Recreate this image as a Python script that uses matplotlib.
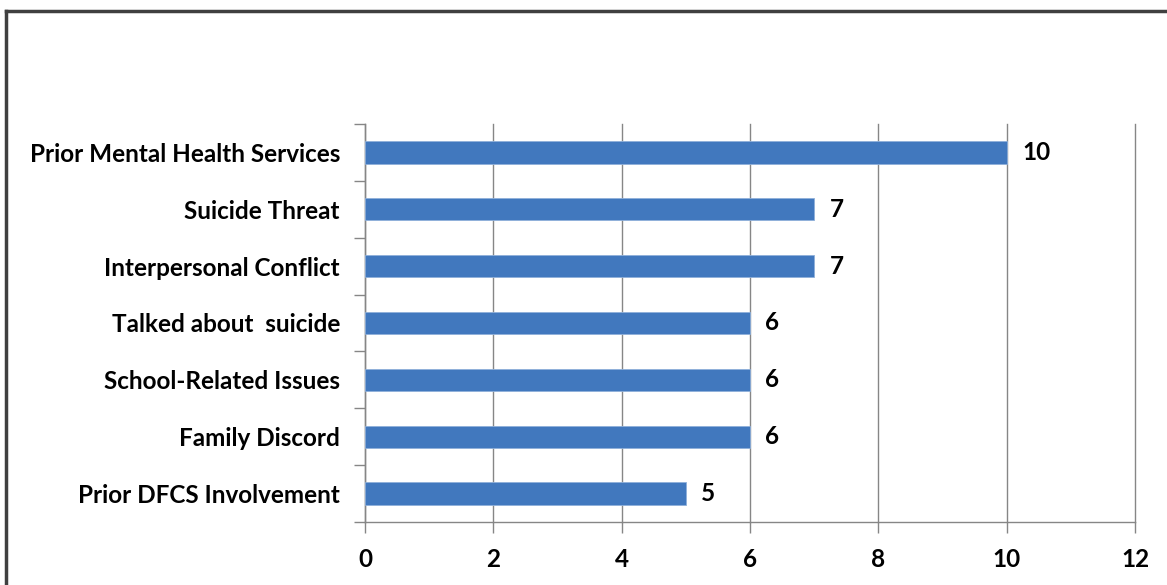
import matplotlib
matplotlib.use("Agg")
import matplotlib.pyplot as plt
from matplotlib.lines import Line2D

categories = ["Prior Mental Health Services", "Suicide Threat", "Interpersonal Conflict",
              "Talked about  suicide", "School-Related Issues", "Family Discord",
              "Prior DFCS Involvement"]
values = [10, 7, 7, 6, 6, 6, 5]
xticks = [0, 2, 4, 6, 8, 10, 12]

plt.rcParams['font.family'] = ['Lato', 'DejaVu Sans']
plt.rcParams['font.weight'] = 'bold'

FS = 17.5
W, H = 1167, 585
fig = plt.figure(figsize=(W / 100, H / 100), dpi=100)
ax = fig.add_axes([365 / W, (H - 522) / H, (1135 - 365) / W, (522 - 124) / H])

ypos = list(range(len(categories)))
bars = ax.barh(ypos, values, height=0.39, color='#4178BE', edgecolor='#8FB0DA', linewidth=0.6, zorder=3)
for y, v in zip(ypos, values):
    ax.annotate(str(v), (v, y), xytext=(11, 0), textcoords='offset points',
                ha='left', va='center', fontsize=FS, fontweight='bold', color='black')

ax.set_xlim(0, 12)
ax.set_ylim(len(categories) - 0.5, -0.5)
ax.set_xticks(xticks)
ax.set_xticklabels([str(t) for t in xticks], fontsize=FS, fontweight='bold')
ax.set_yticks(ypos)
ax.set_yticklabels(categories, fontsize=FS, fontweight='bold')
ax.set_yticks([i - 0.5 for i in range(len(categories) + 1)], minor=True)
ax.tick_params(axis='y', which='major', length=0, pad=18)
ax.tick_params(axis='y', which='minor', length=8, width=1, color='#868686', direction='out')
ax.tick_params(axis='x', which='major', length=8, width=1, color='#868686', direction='out', pad=11)
ax.grid(axis='x', color='#868686', linewidth=1, zorder=0)
for gl in ax.get_xgridlines():
    gl.set_clip_on(False)
for s in ['top', 'right']:
    ax.spines[s].set_visible(False)
for s in ['left', 'bottom']:
    ax.spines[s].set_color('#868686')
    ax.spines[s].set_linewidth(1)

# figure border
c = '#404040'
fig.add_artist(Line2D([5.5 / W, 5.5 / W], [-0.1, (H - 10.5) / H], color=c, linewidth=2.5, transform=fig.transFigure))
fig.add_artist(Line2D([5.5 / W, 1.1], [(H - 10.5) / H, (H - 10.5) / H], color=c, linewidth=2.5, transform=fig.transFigure))

fig.savefig("out.png", dpi=100)
